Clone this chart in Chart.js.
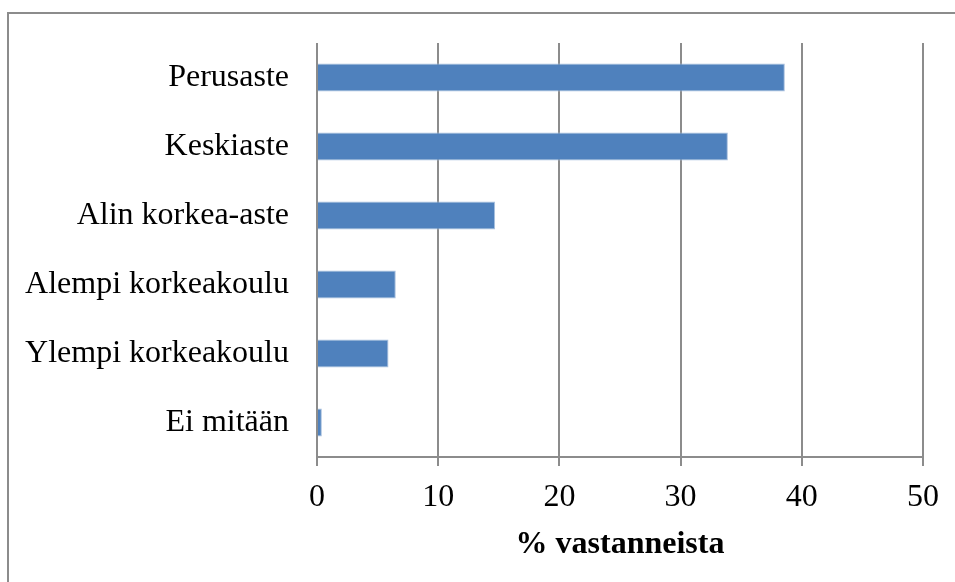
<!DOCTYPE html>
<html>
<head>
<meta charset="utf-8">
<script src="https://cdn.jsdelivr.net/npm/chart.js@4"></script>
<style>
  body { margin: 0; background: #fff; }
  #wrap { position: relative; width: 955px; height: 582px; overflow: hidden; }
  #frame { position: absolute; left: 7px; top: 12px; width: 1000px; height: 1000px; border: 2px solid #8c8c8c; }
  #chart { position: absolute; left: 0; top: 0; }
</style>
</head>
<body>
<div id="wrap">
  <div id="frame"></div>
  <canvas id="chart" width="955" height="582"></canvas>
</div>
<script>
'use strict';

// categories and values (% vastanneista)
let levels = ['Perusaste', 'Keskiaste', 'Alin korkea-aste', 'Alempi korkeakoulu', 'Ylempi korkeakoulu', 'Ei mitään'];
let shares = [38.6, 33.9, 14.7, 6.5, 5.9, 0.4];
let axisTitle = '% vastanneista';

let serif = { family: "'Liberation Serif', 'Times New Roman', serif", size: 32 };
let gray = '#8c8c8c';

new Chart(document.getElementById('chart'), {
    type: 'bar',
    data: {
        labels: levels,
        datasets: [{
            data: shares,
            backgroundColor: '#4f81bd',
            borderColor: '#a9c0de',
            borderWidth: 1,
            barPercentage: 0.9,
            categoryPercentage: 0.45
        }]
    },
    options: {
        indexAxis: 'y',
        responsive: false,
        animation: false,
        layout: { padding: { top: 43, right: 32, bottom: 0, left: 0 } },
        plugins: { legend: { display: false }, tooltip: { enabled: false } },
        scales: {
            x: {
                min: 0,
                max: 50,
                ticks: { stepSize: 10, color: '#000', font: serif, padding: 12, maxRotation: 0 },
                grid: { color: gray, lineWidth: 2, tickLength: 9 },
                border: { color: gray, width: 2 },
                title: {
                    display: true,
                    text: axisTitle,
                    color: '#000',
                    font: { family: serif.family, size: 32, weight: 'bold' },
                    padding: { top: 0, bottom: 18 }
                },
                afterFit: function (scale) { scale.height = 125; }
            },
            y: {
                ticks: { color: '#000', font: serif, padding: 28 },
                grid: { display: false, drawTicks: false },
                border: { display: false },
                afterFit: function (scale) {
                    scale.width = 317;
                    // keep the label half-heights from pushing the plot area down
                    scale.paddingTop = 0;
                    scale.paddingBottom = 0;
                }
            }
        }
    }
});
</script>
</body>
</html>
